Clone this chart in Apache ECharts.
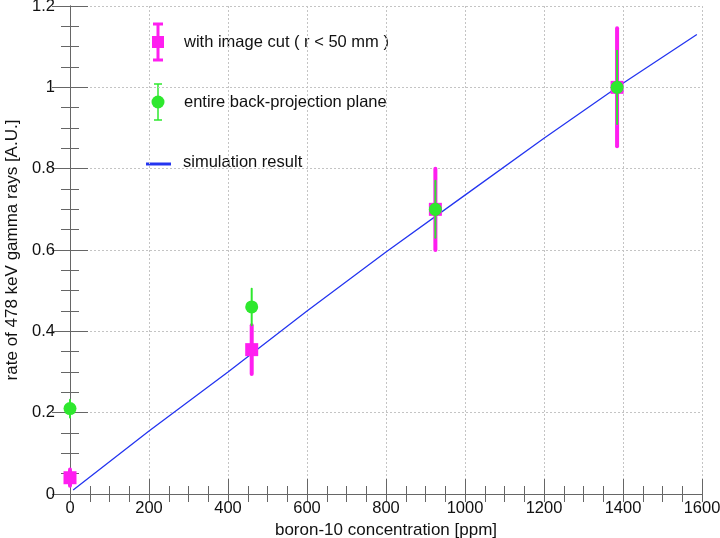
<!DOCTYPE html>
<html>
<head>
<meta charset="utf-8">
<script src="https://cdn.jsdelivr.net/npm/echarts@6/dist/echarts.min.js"></script>
<style>
  html, body { margin: 0; padding: 0; background: #fff; }
  #chart { width: 720px; height: 538px; }
</style>
</head>
<body>
<div id="chart"></div>
<script>
// boron-10 concentration of each measurement [ppm]
var concentration = [0, 460, 925, 1385];
// with image cut ( r < 50 mm )
var cutRate = [0.04, 0.355, 0.70, 1.0];
var cutErr = [0.02, 0.06, 0.10, 0.145];
// entire back-projection plane
var planeRate = [0.21, 0.46, 0.70, 1.0];
var planeErr = [0.022, 0.045, 0.07, 0.09];
// simulation result
var simX = [8, 200, 400, 600, 800, 1000, 1200, 1400, 1587];
var simY = [0.01, 0.155, 0.30, 0.45, 0.595, 0.735, 0.875, 1.01, 1.13];

var cFont = 'Liberation Sans, Arial, Helvetica, sans-serif';
var cMagenta = '#ff1ef0';
var cGreen = '#2ee82e';
var cBlue = '#2435f0';
var cAxis = '#666';

// 把数值转成 [x, y] 点对
function toPairs(ax, ay) {
    var res = [];
    for (var i = 0; i < ax.length; i++) res.push([ax[i], ay[i]]);
    return res;
}

// 误差棒数据 [x, 下限, 上限]
function toErrBars(ax, ay, ae) {
    var res = [];
    for (var i = 0; i < ax.length; i++) res.push([ax[i], ay[i] - ae[i], ay[i] + ae[i]]);
    return res;
}

function errorBarItem(color, width) {
    return function (params, api) {
        var x = api.value(0);
        var lo = api.coord([x, api.value(1)]);
        var hi = api.coord([x, api.value(2)]);
        return {
            type: 'line',
            shape: { x1: lo[0], y1: lo[1], x2: hi[0], y2: hi[1] },
            style: { stroke: color, lineWidth: width, lineCap: 'round' }
        };
    };
}

var oChart = echarts.init(document.getElementById('chart'));

var oTickLine = { color: cAxis, width: 1 };

var oOption = {
    animation: false,
    backgroundColor: '#fff',
    textStyle: { fontFamily: cFont },
    grid: { left: 70, right: 18, top: 6, bottom: 44, containLabel: false, outerBoundsMode: 'none' },
    xAxis: [
        {
            type: 'value',
            min: 0,
            max: 1600,
            interval: 200,
            position: 'bottom',
            name: 'boron-10 concentration [ppm]',
            nameLocation: 'middle',
            nameGap: 22,
            nameTextStyle: { fontSize: 17, color: '#111', fontFamily: cFont },
            axisLine: { show: true, lineStyle: { color: cAxis } },
            axisTick: { show: true, inside: true, length: 15, lineStyle: oTickLine },
            minorTick: { show: true, splitNumber: 4, length: 8, lineStyle: oTickLine },
            splitLine: { show: true, lineStyle: { color: '#c4c4c4', type: [2, 2] } },
            axisLabel: {
                margin: 6, fontSize: 16.5, color: '#111', fontFamily: cFont,
                formatter: function (v) { return String(v); }
            }
        },
        {
            type: 'value',
            min: 0,
            max: 1600,
            interval: 200,
            position: 'top',
            axisLine: { show: true, lineStyle: { color: cAxis } },
            axisTick: { show: true, inside: true, length: 8, lineStyle: oTickLine },
            minorTick: { show: true, splitNumber: 4, length: 8, lineStyle: oTickLine },
            splitLine: { show: false },
            axisLabel: { show: false }
        }
    ],
    yAxis: [
        {
            type: 'value',
            min: 0,
            max: 1.2,
            interval: 0.2,
            position: 'left',
            name: 'rate of 478 keV gamma rays [A.U.]',
            nameLocation: 'middle',
            nameGap: 47,
            nameTextStyle: { fontSize: 17, color: '#111', fontFamily: cFont },
            axisLine: { show: true, lineStyle: { color: cAxis } },
            axisTick: { show: true, inside: true, length: 18, lineStyle: oTickLine },
            minorTick: { show: true, splitNumber: 4, length: 9, lineStyle: oTickLine },
            splitLine: { show: true, lineStyle: { color: '#c4c4c4', type: [2, 2] } },
            axisLabel: {
                margin: 15, fontSize: 16.5, color: '#111', fontFamily: cFont,
                formatter: function (v) { return String(Math.round(v * 10) / 10); }
            }
        },
        {
            type: 'value',
            min: 0,
            max: 1.2,
            interval: 0.2,
            position: 'right',
            axisLine: { show: true, lineStyle: { color: cAxis } },
            axisTick: { show: true, inside: true, length: 18, lineStyle: oTickLine },
            minorTick: { show: true, splitNumber: 4, length: 9, lineStyle: oTickLine },
            splitLine: { show: false },
            axisLabel: { show: false }
        }
    ],
    // 图例：手工画误差棒样式
    graphic: [
        { type: 'line', shape: { x1: 158, y1: 24, x2: 158, y2: 60 }, style: { stroke: cMagenta, lineWidth: 3 } },
        { type: 'line', shape: { x1: 153, y1: 24, x2: 163, y2: 24 }, style: { stroke: cMagenta, lineWidth: 3 } },
        { type: 'line', shape: { x1: 153, y1: 60, x2: 163, y2: 60 }, style: { stroke: cMagenta, lineWidth: 3 } },
        { type: 'rect', shape: { x: 152, y: 36, width: 12, height: 12 }, style: { fill: cMagenta } },
        { type: 'text', x: 184, y: 42, style: { text: 'with image cut ( r < 50 mm )', font: '16.5px ' + cFont, fill: '#111', verticalAlign: 'middle' } },

        { type: 'line', shape: { x1: 158, y1: 84, x2: 158, y2: 120 }, style: { stroke: cGreen, lineWidth: 1.5 } },
        { type: 'line', shape: { x1: 154, y1: 84, x2: 162, y2: 84 }, style: { stroke: cGreen, lineWidth: 1.5 } },
        { type: 'line', shape: { x1: 154, y1: 120, x2: 162, y2: 120 }, style: { stroke: cGreen, lineWidth: 1.5 } },
        { type: 'circle', shape: { cx: 158, cy: 102, r: 6.5 }, style: { fill: cGreen } },
        { type: 'text', x: 184, y: 102, style: { text: 'entire back-projection plane', font: '16.5px ' + cFont, fill: '#111', verticalAlign: 'middle' } },

        { type: 'line', shape: { x1: 146, y1: 164, x2: 171, y2: 164 }, style: { stroke: cBlue, lineWidth: 3 } },
        { type: 'text', x: 183, y: 162, style: { text: 'simulation result', font: '16.5px ' + cFont, fill: '#111', verticalAlign: 'middle' } }
    ],
    series: [
        {
            name: '模拟',
            type: 'line',
            data: toPairs(simX, simY),
            showSymbol: false,
            smooth: false,
            lineStyle: { color: cBlue, width: 1.3 },
            z: 1
        },
        {
            name: '误差-image cut',
            type: 'custom',
            data: toErrBars(concentration, cutRate, cutErr),
            encode: { x: 0, y: [1, 2] },
            renderItem: errorBarItem(cMagenta, 4),
            clip: false,
            z: 2
        },
        {
            name: 'with image cut',
            type: 'scatter',
            data: toPairs(concentration, cutRate),
            symbol: 'rect',
            symbolSize: 13,
            itemStyle: { color: cMagenta, opacity: 1 },
            clip: false,
            z: 3
        },
        {
            name: '误差-plane',
            type: 'custom',
            data: toErrBars(concentration, planeRate, planeErr),
            encode: { x: 0, y: [1, 2] },
            renderItem: errorBarItem(cGreen, 2),
            clip: false,
            z: 4
        },
        {
            name: 'entire plane',
            type: 'scatter',
            data: toPairs(concentration, planeRate),
            symbol: 'circle',
            symbolSize: 13,
            itemStyle: { color: cGreen, opacity: 1 },
            clip: false,
            z: 5
        }
    ]
};

oChart.setOption(oOption, true);
</script>
</body>
</html>
